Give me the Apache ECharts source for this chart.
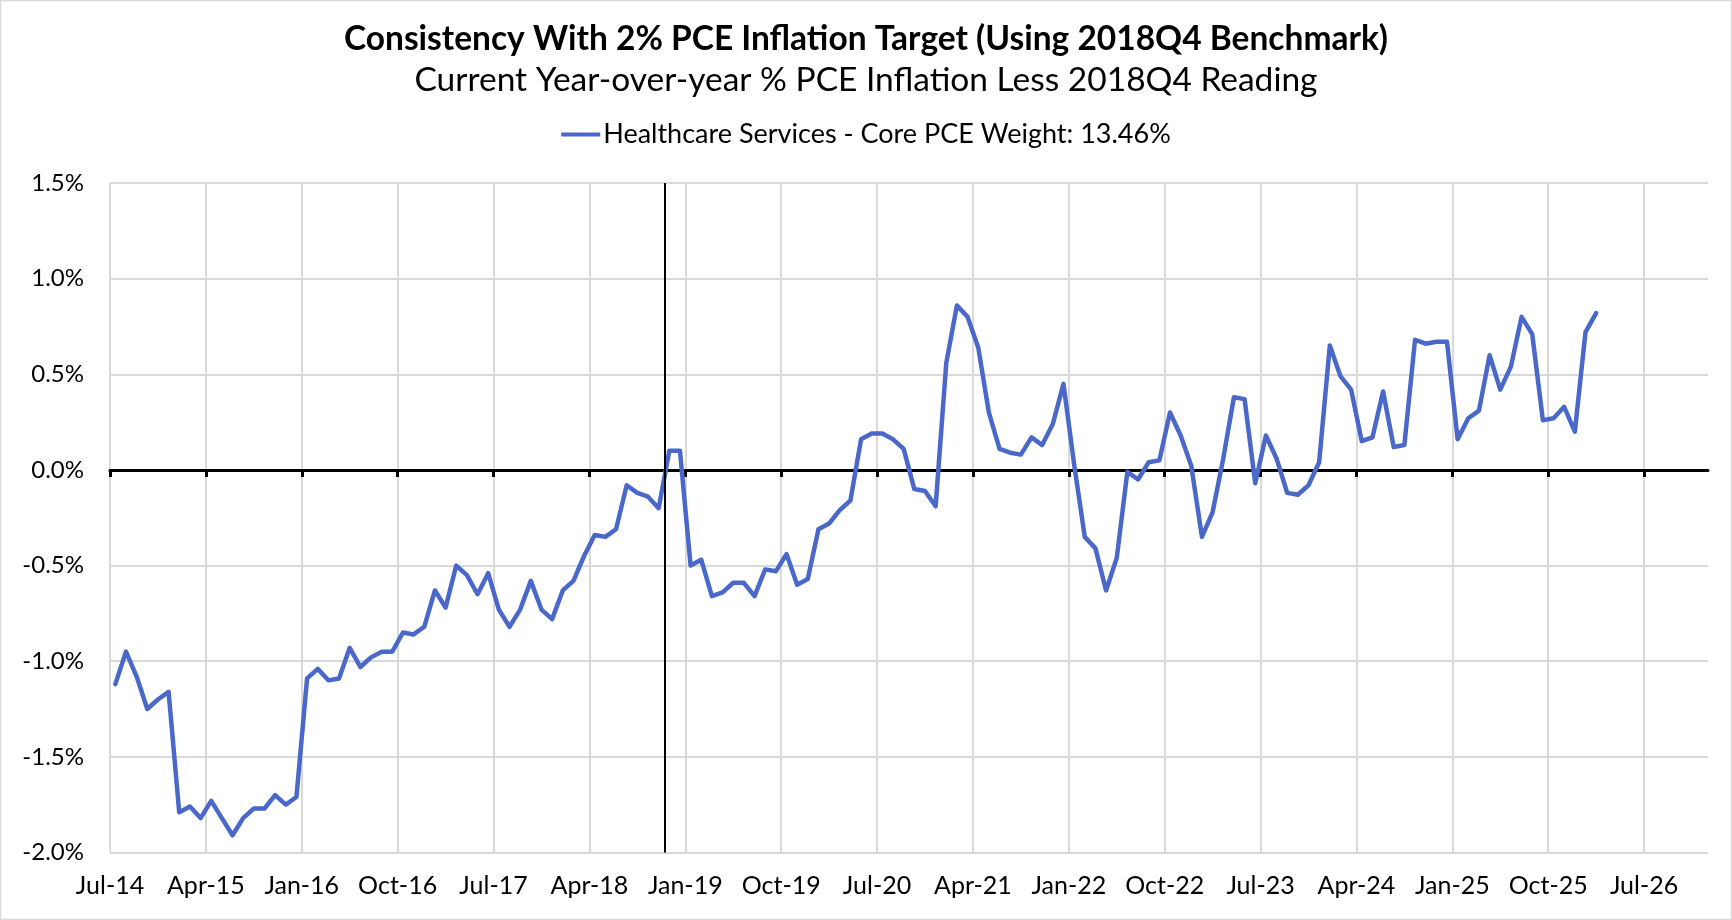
<!DOCTYPE html>
<html>
<head>
<meta charset="utf-8">
<script src="https://cdn.jsdelivr.net/npm/echarts@6/dist/echarts.min.js"></script>
<style>
  html, body { margin: 0; padding: 0; background: #ffffff; }
  #chart { width: 1732px; height: 920px; }
</style>
</head>
<body>
<div id="chart"></div>
<script>
// ---- Text ----
const chartTitle = 'Consistency With 2% PCE Inflation Target (Using 2018Q4 Benchmark)';
const chartSubtitle = 'Current Year-over-year % PCE Inflation Less 2018Q4 Reading';
const seriesName = 'Healthcare Services - Core PCE Weight: 13.46%';

// ---- X axis: months counted from Jul-2014 ----
const tickLabels = ['Jul-14','Apr-15','Jan-16','Oct-16','Jul-17','Apr-18','Jan-19','Oct-19',
                    'Jul-20','Apr-21','Jan-22','Oct-22','Jul-23','Apr-24','Jan-25','Oct-25','Jul-26'];
const tickStepMonths = 9;
const axisEndMonth = 150;      // axis runs Jul-14 .. Jan-27
const benchmarkMonth = 52.1;   // 2018Q4 benchmark marker (early Nov-18)

// ---- Y axis ----
const yMin = -2.0, yMax = 1.5, yStep = 0.5;

// ---- Series: monthly values (%), Jul-2014 onward ----
const healthcareServices = [
  -1.12, -0.95, -1.08, -1.25, -1.20, -1.16,             // Jul-14 .. Dec-14
  -1.79, -1.76, -1.82, -1.73, -1.82, -1.91,             // Jan-15 .. Jun-15
  -1.82, -1.77, -1.77, -1.70, -1.75, -1.71,             // Jul-15 .. Dec-15
  -1.09, -1.04, -1.10, -1.09, -0.93, -1.03,             // Jan-16 .. Jun-16
  -0.98, -0.95, -0.95, -0.85, -0.86, -0.82,             // Jul-16 .. Dec-16
  -0.63, -0.72, -0.50, -0.55, -0.65, -0.54,             // Jan-17 .. Jun-17
  -0.73, -0.82, -0.73, -0.58, -0.73, -0.78,             // Jul-17 .. Dec-17
  -0.63, -0.58, -0.45, -0.34, -0.35, -0.31,             // Jan-18 .. Jun-18
  -0.08, -0.12, -0.14, -0.20, 0.10, 0.10,               // Jul-18 .. Dec-18
  -0.50, -0.47, -0.66, -0.64, -0.59, -0.59,             // Jan-19 .. Jun-19
  -0.66, -0.52, -0.53, -0.44, -0.60, -0.57,             // Jul-19 .. Dec-19
  -0.31, -0.28, -0.21, -0.16, 0.16, 0.19,               // Jan-20 .. Jun-20
  0.19, 0.16, 0.11, -0.10, -0.11, -0.19,                // Jul-20 .. Dec-20
  0.56, 0.86, 0.80, 0.64, 0.30, 0.11,                   // Jan-21 .. Jun-21
  0.09, 0.08, 0.17, 0.13, 0.24, 0.45,                   // Jul-21 .. Dec-21
  0.03, -0.35, -0.41, -0.63, -0.46, -0.01,              // Jan-22 .. Jun-22
  -0.05, 0.04, 0.05, 0.30, 0.18, 0.02,                  // Jul-22 .. Dec-22
  -0.35, -0.22, 0.06, 0.38, 0.37, -0.07,                // Jan-23 .. Jun-23
  0.18, 0.06, -0.12, -0.13, -0.08, 0.04,                // Jul-23 .. Dec-23
  0.65, 0.49, 0.42, 0.15, 0.17, 0.41,                   // Jan-24 .. Jun-24
  0.12, 0.13, 0.68, 0.66, 0.67, 0.67,                   // Jul-24 .. Dec-24
  0.16, 0.27, 0.31, 0.60, 0.42, 0.54,                   // Jan-25 .. Jun-25
  0.80, 0.71, 0.26, 0.27, 0.33, 0.20,                   // Jul-25 .. Dec-25
  0.72, 0.82                                            // Jan-26 .. Feb-26
];

// each monthly reading sits in the middle of its month
const seriesData = healthcareServices.map((v, i) => [i + 0.5, v]);
const tickValues = tickLabels.map((_, i) => i * tickStepMonths);

const FONT = 'Lato';
const LINE_COLOR = '#4A68C9';
const chart = echarts.init(document.getElementById('chart'), null, { renderer: 'canvas' });

chart.setOption({
  animation: false,
  backgroundColor: '#ffffff',
  title: [
    { text: chartTitle, left: 'center', top: 19, padding: 0,
      textStyle: { fontFamily: FONT, fontWeight: 'bold', fontSize: 33.5, color: '#000', lineHeight: 40 } },
    { text: chartSubtitle, left: 'center', top: 60, padding: 0,
      textStyle: { fontFamily: FONT, fontWeight: 'normal', fontSize: 33.5, color: '#000', lineHeight: 40 } }
  ],
  legend: {
    top: 121, left: 'center', padding: 0,
    itemWidth: 39, itemHeight: 4, itemGap: 10,
    textStyle: { fontFamily: FONT, fontSize: 27, color: '#000', padding: [0, 0, 0, -2] },
    data: [{ name: seriesName, icon: 'rect', itemStyle: { color: LINE_COLOR } }]
  },
  graphic: [{
    type: 'rect', silent: true, z: 100,
    shape: { x: 0.5, y: 0.5, width: 1731, height: 919 },
    style: { fill: 'none', stroke: '#d9d9d9', lineWidth: 1.5 }
  }],
  grid: { left: 110, right: 24, top: 183, bottom: 67.5, containLabel: false },
  xAxis: [
    {
      type: 'value', min: 0, max: axisEndMonth, interval: tickStepMonths,
      position: 'bottom',
      axisLine: { show: false, onZero: false },
      axisTick: { show: false },
      axisLabel: {
        show: true, margin: 21, fontFamily: FONT, fontSize: 25, color: '#000',
        customValues: tickValues,
        formatter: v => {
          const k = Math.round(v / tickStepMonths);
          return (Math.abs(v - k * tickStepMonths) < 1e-6 && k < tickLabels.length) ? tickLabels[k] : '';
        }
      },
      splitLine: { show: true, showMaxLine: false, lineStyle: { color: '#d9d9d9', width: 2 } }
    },
    {
      type: 'value', min: 0, max: axisEndMonth, interval: tickStepMonths,
      position: 'top',
      axisLine: { show: true, onZero: true, onZeroAxisIndex: 0, lineStyle: { color: '#000', width: 3 } },
      axisTick: { show: true, inside: true, length: 7, customValues: tickValues, lineStyle: { color: '#000', width: 3 } },
      axisLabel: { show: false },
      splitLine: { show: false }
    }
  ],
  yAxis: {
    type: 'value', min: yMin, max: yMax, interval: yStep,
    axisLine: { show: false },
    axisTick: { show: false },
    axisLabel: {
      margin: 26, fontFamily: FONT, fontSize: 24, color: '#000',
      formatter: v => v.toFixed(1) + '%'
    },
    splitLine: { show: true, lineStyle: { color: '#d9d9d9', width: 2 } }
  },
  series: [{
    name: seriesName,
    type: 'line',
    xAxisIndex: 0, yAxisIndex: 0,
    data: seriesData,
    showSymbol: false, symbol: 'none',
    lineStyle: { color: LINE_COLOR, width: 4.5, join: 'round', cap: 'round' },
    itemStyle: { color: LINE_COLOR },
    z: 3,
    markLine: {
      silent: true, symbol: ['none', 'none'], animation: false,
      label: { show: false },
      lineStyle: { color: '#000', width: 2, type: 'solid' },
      data: [{ xAxis: benchmarkMonth }]
    }
  }]
});
</script>
</body>
</html>
